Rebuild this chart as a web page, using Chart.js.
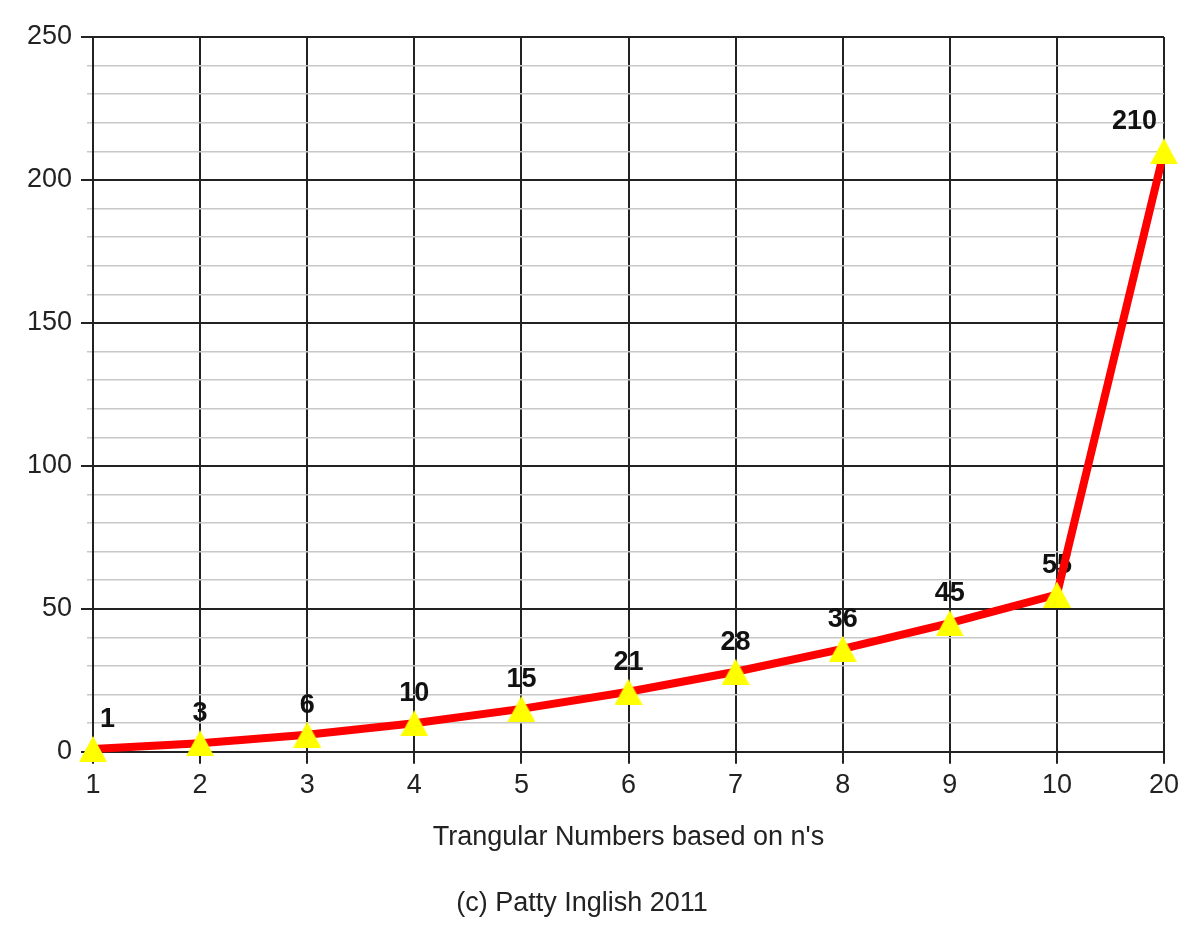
<!DOCTYPE html>
<html>
<head>
<meta charset="utf-8">
<script src="https://cdn.jsdelivr.net/npm/chart.js@4/dist/chart.umd.min.js"></script>
<style>
  html, body { margin: 0; padding: 0; background: #fff; }
  #wrap { width: 1200px; height: 926px; }
</style>
</head>
<body>
<div id="wrap"><canvas id="grafico"></canvas></div>
<script>
// datos
const etiquetasN = ['1', '2', '3', '4', '5', '6', '7', '8', '9', '10', '20'];
const triangulares = [1, 3, 6, 10, 15, 21, 28, 36, 45, 55, 210];
const ejeYMin = 0;
const ejeYMax = 250;
const pasoMenor = 10;
const pasoMayor = 50;

const fuente = "'Liberation Sans', Arial, sans-serif";

// triangulo amarillo centrado en el punto
function crearTriangulo() {
    const c = document.createElement('canvas');
    c.width = 28;
    c.height = 26;
    const g = c.getContext('2d');
    g.fillStyle = '#ffff00';
    g.beginPath();
    g.moveTo(14, 0);
    g.lineTo(28, 26);
    g.lineTo(0, 26);
    g.closePath();
    g.fill();
    return c;
}

// etiquetas de valor encima de cada punto
const etiquetasValor = {
    id: 'etiquetasValor',
    beforeDatasetsDraw(chart) {
        const ctx = chart.ctx;
        const area = chart.chartArea;
        const meta = chart.getDatasetMeta(0);
        ctx.save();
        ctx.font = 'bold 27px ' + fuente;
        ctx.fillStyle = '#111';
        ctx.textAlign = 'left';
        ctx.textBaseline = 'alphabetic';
        meta.data.forEach((p, i) => {
            const txt = String(triangulares[i]);
            const w = ctx.measureText(txt).width;
            let x = p.x - w / 2;
            if (x < area.left + 7) x = area.left + 7;
            if (x + w > area.right - 7) x = area.right - 7 - w;
            ctx.fillText(txt, x, p.y - 22);
        });
        ctx.restore();
    }
};

const esMayor = v => v % pasoMayor === 0;

new Chart(document.getElementById('grafico'), {
    type: 'line',
    data: {
        labels: etiquetasN,
        datasets: [{
            data: triangulares,
            borderColor: '#ff0000',
            borderWidth: 8,
            tension: 0,
            pointStyle: crearTriangulo(),
            pointRadius: 14,
            pointHoverRadius: 14,
            clip: false
        }]
    },
    options: {
        responsive: true,
        maintainAspectRatio: false,
        animation: false,
        layout: { padding: { top: 37, right: 36, bottom: 6, left: 0 } },
        plugins: {
            legend: { display: false },
            tooltip: { enabled: false },
            title: {
                display: true,
                position: 'bottom',
                text: '(c) Patty Inglish 2011',
                color: '#222',
                font: { family: fuente, size: 27, weight: 'normal' },
                padding: { top: 30, bottom: 0 }
            }
        },
        scales: {
            x: {
                type: 'category',
                offset: false,
                grid: {
                    offset: false,
                    color: '#222',
                    lineWidth: 2,
                    tickLength: 12,
                    tickColor: '#222'
                },
                border: { color: '#222', width: 2 },
                ticks: {
                    color: '#222',
                    padding: 6,
                    maxRotation: 0,
                    autoSkip: false,
                    font: { family: fuente, size: 27 }
                },
                title: {
                    display: true,
                    text: "Trangular Numbers based on n's",
                    color: '#222',
                    font: { family: fuente, size: 27 },
                    padding: { top: 13, bottom: 4 }
                }
            },
            y: {
                min: ejeYMin,
                max: ejeYMax,
                afterFit(scale) { scale.width = 93; },
                grid: {
                    color: ctx => esMayor(ctx.tick.value) ? '#222' : '#c8c8c8',
                    lineWidth: ctx => esMayor(ctx.tick.value) ? 2 : 1.5,
                    tickLength: 12,
                    tickColor: ctx => esMayor(ctx.tick.value) ? '#222' : '#c8c8c8',
                    tickWidth: ctx => esMayor(ctx.tick.value) ? 2 : 1.5,
                    tickBorderDash: ctx => esMayor(ctx.tick.value) ? [] : [0, 6, 6, 0]
                },
                border: { color: '#222', width: 2 },
                ticks: {
                    stepSize: pasoMenor,
                    autoSkip: false,
                    color: '#222',
                    padding: 9,
                    font: { family: fuente, size: 27 },
                    callback: v => esMayor(v) ? v : ''
                }
            }
        }
    },
    plugins: [etiquetasValor]
});
</script>
</body>
</html>
